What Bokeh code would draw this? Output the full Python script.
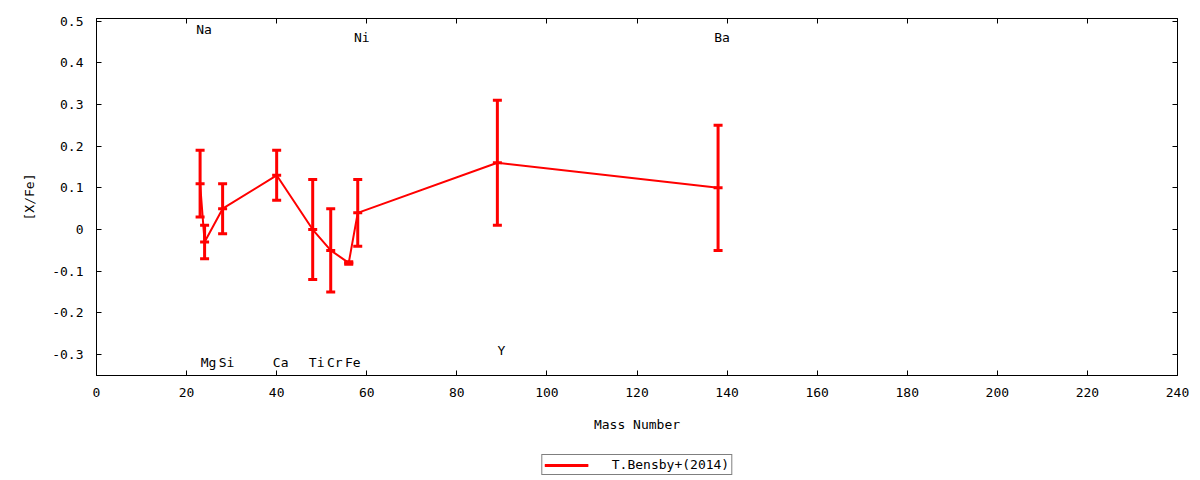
from bokeh.plotting import figure
from bokeh.layouts import column
from bokeh.models import (LinearAxis, FixedTicker, NumeralTickFormatter, Legend,
                          LegendItem, Range1d, ColumnDataSource)
from bokeh.core.properties import value
from bokeh.embed import file_html
from bokeh.resources import INLINE

# element, mass number, [X/Fe] and its error (T.Bensby+ 2014)
elements = ["Na", "Mg", "Si", "Ca", "Ti", "Cr", "Fe", "Ni", "Y", "Ba"]
mass = [23, 24, 28, 40, 48, 52, 56, 58, 89, 138]
xfe = [0.11, -0.03, 0.05, 0.13, 0.00, -0.05, -0.08, 0.04, 0.16, 0.10]
err = [0.08, 0.04, 0.06, 0.06, 0.12, 0.10, 0.003, 0.08, 0.15, 0.15]
# where each element name is written
label_y = [0.48, -0.32, -0.32, -0.32, -0.32, -0.32, -0.32, 0.46, -0.29, 0.46]

x_ticks = [0, 20, 40, 60, 80, 100, 120, 140, 160, 180, 200, 220, 240]
y_ticks = [-0.3, -0.2, -0.1, 0, 0.1, 0.2, 0.3, 0.4, 0.5]

FONT = "DejaVu Sans Mono"
RED = "#ff0000"

src = ColumnDataSource(dict(
    mass=mass, xfe=xfe,
    lo=[v - e for v, e in zip(xfe, err)],
    hi=[v + e for v, e in zip(xfe, err)],
))
labels = ColumnDataSource(dict(x=mass, y=label_y, text=elements))


def draw_series(fig, **kw):
    ln = fig.line("mass", "xfe", source=src, color=RED, line_width=2, **kw)
    bars = fig.segment(x0="mass", y0="lo", x1="mass", y1="hi", source=src,
                       color=RED, line_width=3, **kw)
    return ln, bars


p = figure(width=1200, height=440, output_backend="svg", toolbar_location=None,
           x_range=Range1d(0, 240), y_range=Range1d(-0.35, 0.506),
           min_border_left=96, min_border_right=23, min_border_top=18,
           min_border_bottom=65, x_axis_label="Mass Number", y_axis_label="[X/Fe]")
p.grid.visible = False
p.outline_line_color = "black"
p.outline_line_width = 1

draw_series(p)
for col in ["lo", "hi", "xfe"]:
    p.scatter("mass", col, source=src, marker="dash", size=9,
              line_color=RED, line_width=3)

p.text("x", "y", text="text", source=labels, text_align="center",
       text_baseline="middle", x_offset=4, text_font=value(FONT),
       text_font_size="13px", text_color="black")

# mirrored axes on top and right, gnuplot style
p.add_layout(LinearAxis(), "above")
p.add_layout(LinearAxis(), "right")

for ax in p.xaxis:
    ax.ticker = FixedTicker(ticks=x_ticks)
for ax in p.yaxis:
    ax.ticker = FixedTicker(ticks=y_ticks)
    ax.formatter = NumeralTickFormatter(format="0.[0]")

for ax in p.axis:
    ax.major_tick_in = 5
    ax.major_tick_out = 0
    ax.minor_tick_line_color = None
    ax.axis_line_color = "black"
    ax.major_tick_line_color = "black"
    ax.major_label_text_font = FONT
    ax.major_label_text_font_size = "13px"
    ax.major_label_text_color = "black"
    ax.axis_label_text_font = FONT
    ax.axis_label_text_font_size = "13px"
    ax.axis_label_text_font_style = "normal"
    ax.axis_label_text_color = "black"

for ax in (p.above[0], p.right[0]):
    ax.major_label_text_alpha = 0
    ax.major_label_standoff = 0

p.below[0].major_label_standoff = 12
p.below[0].axis_label_standoff = 17
p.left[0].major_label_standoff = 13
p.left[0].axis_label_standoff = 12

# legend strip under the plot (a side-panel legend collapses the frame here)
leg = figure(width=1200, height=40, output_backend="svg", toolbar_location=None,
             x_range=Range1d(0, 240), y_range=Range1d(-0.35, 0.506),
             x_axis_type=None, y_axis_type=None,
             min_border_left=96, min_border_right=23, min_border_top=0,
             min_border_bottom=0)
leg.grid.visible = False
leg.outline_line_color = None
leg_ln, leg_bars = draw_series(leg, visible=False)

legend = Legend(items=[LegendItem(label="T.Bensby+(2014)", renderers=[leg_bars, leg_ln])],
                location="bottom_center", orientation="horizontal",
                border_line_color="black", border_line_width=1,
                padding=2, margin=5, spacing=0,
                glyph_width=44, glyph_height=14, label_height=14,
                label_standoff=24, label_text_font=FONT,
                label_text_font_size="13px", label_text_color="black",
                inactive_fill_alpha=0)
leg.add_layout(legend)

open("out.html", "w").write(file_html(column(p, leg), INLINE))
